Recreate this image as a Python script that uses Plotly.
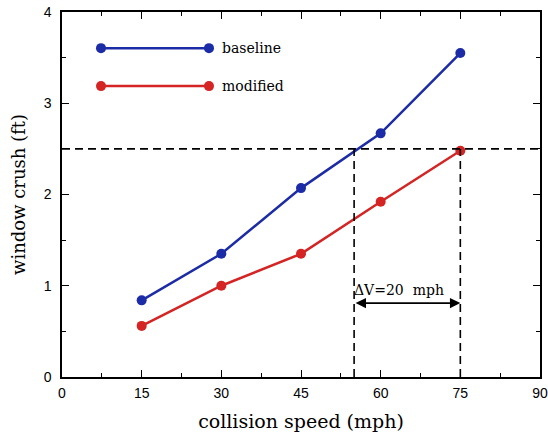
import plotly.graph_objects as go

speeds = [15, 30, 45, 60, 75]
baseline = [0.84, 1.35, 2.07, 2.67, 3.55]
modified = [0.56, 1.00, 1.35, 1.92, 2.48]
x_ticks = [0, 15, 30, 45, 60, 75, 90]
y_ticks = [0, 1, 2, 3, 4]
threshold = 2.5
dv_low, dv_high = 55, 75

BLUE = "#1c2ca6"
RED = "#d42424"
SERIF = "DejaVu Serif"

fig = go.Figure()
fig.add_trace(go.Scatter(x=speeds, y=baseline, mode="lines+markers", name="baseline",
                         line=dict(color=BLUE, width=2.5), marker=dict(size=10, color=BLUE)))
fig.add_trace(go.Scatter(x=speeds, y=modified, mode="lines+markers", name="modified",
                         line=dict(color=RED, width=2.5), marker=dict(size=10, color=RED)))

dash = dict(color="black", width=1.6, dash="8px,5px")
fig.add_shape(type="line", x0=0, x1=90, y0=threshold, y1=threshold, line=dash)
fig.add_shape(type="line", x0=dv_low, x1=dv_low, y0=0, y1=threshold, line=dash)
fig.add_shape(type="line", x0=dv_high, x1=dv_high, y0=0, y1=threshold, line=dash)

fig.add_annotation(x=dv_high, y=0.81, ax=dv_low, ay=0.81, xref="x", yref="y", axref="x", ayref="y",
                   text="", showarrow=True, arrowhead=2, startarrowhead=2, arrowside="end+start",
                   arrowsize=1.3, arrowwidth=1.6, arrowcolor="black")
fig.add_annotation(x=63.5, y=0.95, xref="x", yref="y", text="ΔV=20  mph",
                   showarrow=False, font=dict(family=SERIF, size=14, color="black"))

# legend drawn manually
for (name, col, py) in [("baseline", BLUE, 0.901), ("modified", RED, 0.797)]:
    fig.add_shape(type="line", xref="paper", yref="paper", x0=0.0816, x1=0.3075, y0=py, y1=py,
                  line=dict(color=col, width=2.5))
    for px in (0.0816, 0.3075):
        fig.add_shape(type="circle", xref="paper", yref="paper",
                      x0=px - 0.0105, x1=px + 0.0105, y0=py - 0.0137, y1=py + 0.0137,
                      fillcolor=col, line=dict(color=col, width=0))
    fig.add_annotation(x=0.331, y=py, xref="paper", yref="paper", text=name, showarrow=False,
                       xanchor="left", yanchor="middle",
                       font=dict(family=SERIF, size=14, color="black"))

axis_common = dict(showgrid=False, zeroline=False, showline=True, linecolor="black", linewidth=1.5,
                   mirror="allticks", ticks="inside", ticklen=7, tickwidth=1.2, tickcolor="black",
                   automargin=False,
                   tickfont=dict(family="Liberation Sans", size=14, color="black"))
fig.update_xaxes(range=[0, 90], tickvals=x_ticks, ticklabelstandoff=2,
                 minor=dict(dtick=7.5, ticks="inside", ticklen=4, tickcolor="black", tickwidth=1),
                 title=dict(text="collision speed (mph)", font=dict(family=SERIF, size=19, color="black"),
                            standoff=15),
                 **axis_common)
fig.update_yaxes(range=[0, 4], tickvals=y_ticks, ticklabelstandoff=6,
                 minor=dict(dtick=0.5, ticks="inside", ticklen=4, tickcolor="black", tickwidth=1),
                 title=dict(text="window crush (ft)", font=dict(family=SERIF, size=18, color="black"),
                            standoff=13),
                 **axis_common)

fig.update_layout(width=548, height=437, showlegend=False,
                  margin=dict(l=62, r=8, t=12, b=60),
                  plot_bgcolor="white", paper_bgcolor="white")

fig.write_html("out.html", config={"displayModeBar": False},
               post_script="document.body.style.margin='0px';document.body.style.overflow='hidden';")
